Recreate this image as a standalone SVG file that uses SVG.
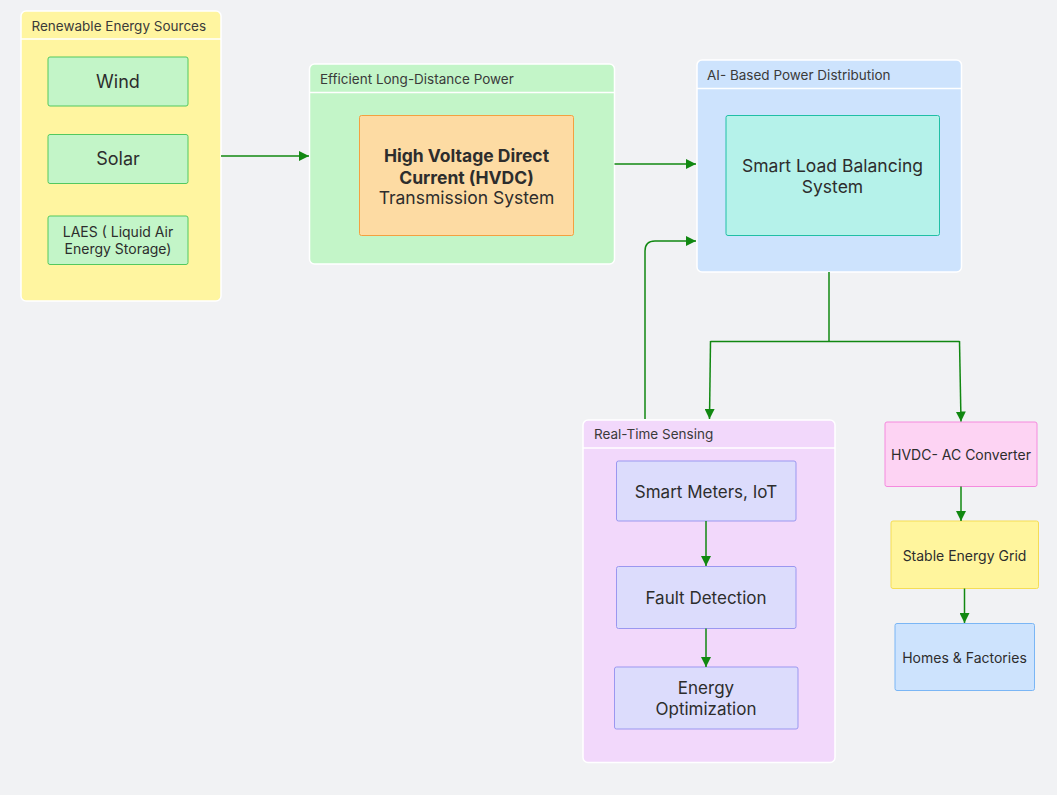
<svg xmlns="http://www.w3.org/2000/svg" width="1057" height="795" viewBox="0 0 1057 795">
<defs>
<marker id="ah" viewBox="0 0 10 10" refX="10" refY="5" markerWidth="10" markerHeight="10" markerUnits="userSpaceOnUse" orient="auto">
<path d="M0,0 L10,5 L0,10 z" fill="#118811"/>
</marker>
<style>
text{font-family:Inter,"Liberation Sans",sans-serif;fill:#2d2d2d}
.grp{stroke:#ffffff;stroke-width:1.5}
.div{stroke:#ffffff;stroke-width:1.5}
.gt{font-size:13.5px;fill:#3a3a3a}
.c{text-anchor:middle}
.con{fill:none;stroke:#118811;stroke-width:1.5}
</style>
</defs>
<rect width="1057" height="795" fill="#f1f2f4"/>

<g id="renewable">
<rect class="grp" x="21" y="11" width="200" height="290" rx="5" fill="#fff5a0"/>
<line class="div" x1="21" y1="39" x2="221" y2="39"/>
<text class="gt" x="31.5" y="31">Renewable Energy Sources</text>
</g>
<g id="wind">
<rect x="48" y="57" width="140" height="49" rx="2" fill="#c3f5c8" stroke="#52c95f" stroke-width="1"/>
<text class="c" x="118" y="88" font-size="18">Wind</text>
</g>
<g id="solar">
<rect x="48" y="134.5" width="140" height="49" rx="2" fill="#c3f5c8" stroke="#52c95f" stroke-width="1"/>
<text class="c" x="118" y="165" font-size="18">Solar</text>
</g>
<g id="laes">
<rect x="48" y="216" width="140" height="48.5" rx="2" fill="#c3f5c8" stroke="#52c95f" stroke-width="1"/>
<text class="c" x="118" y="237" font-size="14">LAES ( Liquid Air</text>
<text class="c" x="118" y="253.5" font-size="14">Energy Storage)</text>
</g>

<g id="efficient">
<rect class="grp" x="309.5" y="64" width="305" height="200" rx="5" fill="#c3f5c8"/>
<line class="div" x1="309.5" y1="92.5" x2="614.5" y2="92.5"/>
<text class="gt" x="320" y="83.5">Efficient Long-Distance Power</text>
</g>
<g id="hvdc">
<rect x="359.5" y="115.5" width="214" height="120" rx="2" fill="#fddba3" stroke="#f4a040" stroke-width="1"/>
<text class="c" x="466.5" y="162" font-size="17.5" font-weight="bold">High Voltage Direct</text>
<text class="c" x="466.5" y="183.5" font-size="17.5" font-weight="bold">Current (HVDC)</text>
<text class="c" x="466.5" y="204" font-size="17.5">Transmission System</text>
</g>

<g id="ai">
<rect class="grp" x="697" y="60" width="264.5" height="212" rx="5" fill="#cde3fd"/>
<line class="div" x1="697" y1="88.5" x2="961.5" y2="88.5"/>
<text class="gt" x="707" y="80">AI- Based Power Distribution</text>
</g>
<g id="slb">
<rect x="726" y="115.5" width="213.5" height="120" rx="2" fill="#b5f2ea" stroke="#20bfa6" stroke-width="1"/>
<text class="c" x="832.5" y="172" font-size="17.5">Smart Load Balancing</text>
<text class="c" x="832.5" y="193" font-size="17.5">System</text>
</g>

<g id="sensing">
<rect class="grp" x="583" y="420" width="252" height="342.5" rx="5" fill="#f2d8fb"/>
<line class="div" x1="583" y1="448" x2="835" y2="448"/>
<text class="gt" x="594" y="438.5">Real-Time Sensing</text>
</g>
<g id="meters">
<rect x="616.5" y="461" width="179.5" height="60" rx="2" fill="#dcdcfc" stroke="#9b97f0" stroke-width="1"/>
<text class="c" x="706" y="497.5" font-size="17">Smart Meters, IoT</text>
</g>
<g id="fault">
<rect x="616.5" y="566.5" width="179.5" height="62" rx="2" fill="#dcdcfc" stroke="#9b97f0" stroke-width="1"/>
<text class="c" x="706" y="603.5" font-size="17">Fault Detection</text>
</g>
<g id="optim">
<rect x="614.5" y="667" width="183.5" height="62" rx="2" fill="#dcdcfc" stroke="#9b97f0" stroke-width="1"/>
<text class="c" x="706" y="694" font-size="17">Energy</text>
<text class="c" x="706" y="715" font-size="17">Optimization</text>
</g>

<g id="converter">
<rect x="885" y="422" width="152" height="64.5" rx="2" fill="#fdd3f3" stroke="#f58ade" stroke-width="1"/>
<text class="c" x="961" y="459.5" font-size="14">HVDC- AC Converter</text>
</g>
<g id="grid">
<rect x="891" y="521" width="147.5" height="67.5" rx="2" fill="#fff59d" stroke="#f5dd55" stroke-width="1"/>
<text class="c" x="964.5" y="560.5" font-size="14">Stable Energy Grid</text>
</g>
<g id="homes">
<rect x="895" y="623.5" width="139.5" height="67" rx="2" fill="#cde3fd" stroke="#7ab6f5" stroke-width="1"/>
<text class="c" x="964.5" y="662.5" font-size="14">Homes &amp; Factories</text>
</g>

<g id="connectors">
<path class="con" d="M221,156 L309,156" marker-end="url(#ah)"/>
<path class="con" d="M614.5,164 L696,164" marker-end="url(#ah)"/>
<path class="con" d="M645,419 L645,251 Q645,241 655,241 L696,241" marker-end="url(#ah)"/>
<path class="con" d="M829,272 L829,341.5"/>
<path class="con" d="M710.5,341.5 L959.5,341.5"/>
<path class="con" d="M710.5,341 L709.5,419" marker-end="url(#ah)"/>
<path class="con" d="M959.5,341 L961,421.5" marker-end="url(#ah)"/>
<path class="con" d="M706,521 L706,566" marker-end="url(#ah)"/>
<path class="con" d="M706,628.5 L706,667" marker-end="url(#ah)"/>
<path class="con" d="M961,486.5 L961,521" marker-end="url(#ah)"/>
<path class="con" d="M964.5,588.5 L964.5,623" marker-end="url(#ah)"/>
</g>
</svg>
